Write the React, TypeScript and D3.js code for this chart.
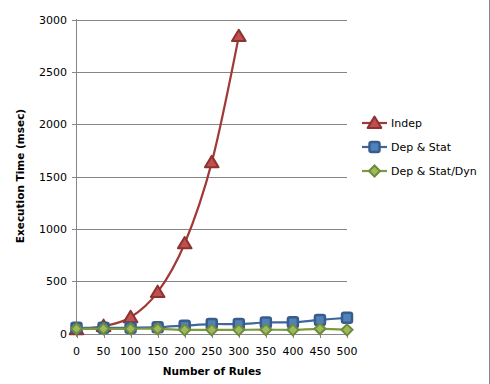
import React from "react";
import * as d3 from "d3";

const rules = [0, 50, 100, 150, 200, 250, 300, 350, 400, 450, 500];
const indep = [40, 70, 155, 395, 860, 1635, 2840];
const depStat = [55, 55, 55, 60, 75, 90, 90, 105, 108, 130, 150];
const depStatDyn = [45, 45, 45, 45, 35, 35, 35, 37, 35, 45, 35];
const yTicks = [0, 500, 1000, 1500, 2000, 2500, 3000];

const W = 490, H = 384;
const x = d3.scaleLinear().domain([0, 500]).range([76.5, 347]);
const y = d3.scaleLinear().domain([0, 3000]).range([333.5, 19.5]);
const font = "Tahoma, 'DejaVu Sans', Verdana, sans-serif";

const line = d3.line<[number, number]>().x(d => x(d[0])).y(d => y(d[1])).curve(d3.curveCatmullRom.alpha(0));

function tri(cx: number, cy: number, s: number) {
  return `M${cx},${cy - s} L${cx + s * 1.05},${cy + s * 0.75} L${cx - s * 1.05},${cy + s * 0.75} Z`;
}
function diamond(cx: number, cy: number, s: number) {
  return `M${cx},${cy - s} L${cx + s},${cy} L${cx},${cy + s} L${cx - s},${cy} Z`;
}

const series = [
  { name: "Indep", data: indep, line: "#A03A38", fill: "#C0504D", stroke: "#8C3331", marker: "tri" },
  { name: "Dep & Stat", data: depStat, line: "#3E679A", fill: "#4F81BD", stroke: "#385D8A", marker: "sq" },
  { name: "Dep & Stat/Dyn", data: depStatDyn, line: "#7C9A3E", fill: "#9BBB59", stroke: "#71893F", marker: "dia" },
];

function Marker({ kind, cx, cy, fill, stroke }: any) {
  if (kind === "tri") return <path d={tri(cx, cy, 6.5)} fill={fill} stroke={stroke} strokeWidth={2} strokeLinejoin="round" />;
  if (kind === "sq") return <rect x={cx - 5} y={cy - 5} width={10} height={10} rx={2} fill={fill} stroke={stroke} strokeWidth={2.5} />;
  return <path d={diamond(cx, cy, 5.5)} fill={fill} stroke={stroke} strokeWidth={2} />;
}

export default function App() {
  return (
    <svg width={W} height={H} style={{ position: "absolute", left: 0, top: 0, background: "#fff" }}>
      <rect x={0} y={0} width={W} height={H} fill="#fff" />
      <line x1={489.5} x2={489.5} y1={0} y2={H} stroke="#888" strokeWidth={1} />
      {yTicks.map(t => (
        <g key={t}>
          <line x1={72} x2={347} y1={Math.round(y(t)) + 0.5} y2={Math.round(y(t)) + 0.5} stroke="#868686" strokeWidth={1} />
          <text x={67} y={y(t) + 4} textAnchor="end" fontFamily={font} fontSize={11} fill="#000">{t}</text>
        </g>
      ))}
      <line x1={76.5} x2={76.5} y1={19} y2={337} stroke="#868686" strokeWidth={1} />
      {rules.map(r => (
        <g key={r}>
          <line x1={Math.round(x(r)) + 0.5} x2={Math.round(x(r)) + 0.5} y1={333} y2={338} stroke="#868686" />
          <text x={x(r)} y={355} textAnchor="middle" fontFamily={font} fontSize={11} fill="#000">{r}</text>
        </g>
      ))}
      <text x={212} y={375} textAnchor="middle" fontFamily={font} fontSize={10.5} fontWeight="bold" fill="#000">Number of Rules</text>
      <text transform={`translate(24,176) rotate(-90)`} textAnchor="middle" fontFamily={font} fontSize={10.5} fontWeight="bold" fill="#000">Execution Time (msec)</text>
      {series.map(s => {
        const pts: [number, number][] = s.data.map((v, i) => [rules[i], v]);
        return (
          <g key={s.name}>
            <path d={line(pts) || ""} fill="none" stroke={s.line} strokeWidth={2.2} />
            {pts.map((p, i) => <Marker key={i} kind={s.marker} cx={x(p[0])} cy={y(p[1])} fill={s.fill} stroke={s.stroke} />)}
          </g>
        );
      })}
      {series.map((s, i) => {
        const ly = 123 + i * 24;
        return (
          <g key={s.name}>
            <line x1={362} x2={387} y1={ly} y2={ly} stroke={s.line} strokeWidth={2.2} />
            <Marker kind={s.marker} cx={374.5} cy={ly} fill={s.fill} stroke={s.stroke} />
            <text x={391} y={ly + 4} fontFamily={font} fontSize={11} fill="#000">{s.name}</text>
          </g>
        );
      })}
    </svg>
  );
}
